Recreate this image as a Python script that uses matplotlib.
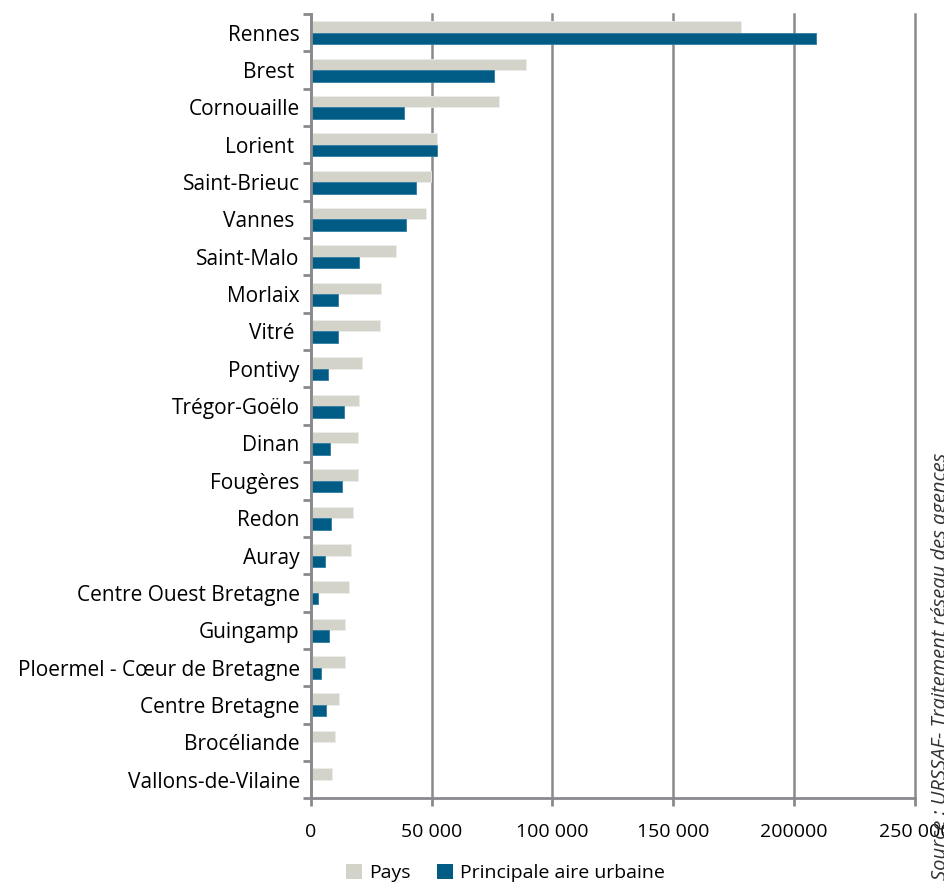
import matplotlib
matplotlib.use("Agg")
import matplotlib.pyplot as plt
from matplotlib.patches import Patch
from matplotlib.ticker import FixedLocator
import numpy as np

plt.rcParams["font.family"] = ["Open Sans", "DejaVu Sans"]

categories = [
    "Rennes", "Brest ", "Cornouaille", "Lorient ", "Saint-Brieuc", "Vannes ",
    "Saint-Malo", "Morlaix", "Vitré ", "Pontivy", "Trégor-Goëlo", "Dinan",
    "Fougères", "Redon", "Auray", "Centre Ouest Bretagne", "Guingamp",
    "Ploermel - Cœur de Bretagne", "Centre Bretagne", "Brocéliande",
    "Vallons-de-Vilaine",
]
pays = [
    178000, 89200, 77900, 52400, 49600, 47800, 35100, 28900, 28500, 21100,
    20100, 19600, 19400, 17500, 16400, 15700, 14200, 14000, 11700, 10000, 8750,
]
aire_urbaine = [
    209300, 76000, 38400, 52200, 43500, 39200, 20000, 11100, 11400, 7100,
    13750, 8050, 12900, 8200, 5800, 3050, 7500, 4300, 6250, 0, 0,
]
x_ticks = [0, 50000, 100000, 150000, 200000, 250000]
x_tick_labels = ["0", "50 000", "100 000", "150 000", "200000", "250 000"]

PAYS_COLOR = "#d3d3ca"
URB_COLOR = "#005b85"
GRID_COLOR = "#8a8a8e"

fig = plt.figure(figsize=(9.45, 8.82), dpi=100)
ax = fig.add_axes([0.329, 0.095, 0.639, 0.889])

n = len(categories)
y = np.arange(n)
h = 0.31
ax.barh(y - h / 2, pays, height=h, color=PAYS_COLOR, edgecolor="#ececea", linewidth=0.6, zorder=3)
ax.barh(y + h / 2, aire_urbaine, height=h, color=URB_COLOR, edgecolor="#2f7ea3", linewidth=0.6, zorder=3)

ax.set_ylim(n - 0.5, -0.5)
ax.set_xlim(0, 250000)

ax.set_yticks(y)
ax.set_yticklabels(categories, fontsize=15)
ax.yaxis.set_minor_locator(FixedLocator(np.arange(-0.5, n, 1.0)))
ax.tick_params(axis="y", which="major", length=0, pad=8)
ax.tick_params(axis="y", which="minor", length=6, width=2, color=GRID_COLOR)

ax.set_xticks(x_ticks)
ax.set_xticklabels(x_tick_labels, fontsize=14)
ax.tick_params(axis="x", length=6, width=2, color=GRID_COLOR, pad=12)

ax.grid(axis="x", color=GRID_COLOR, linewidth=1.8, zorder=0)
for gl in ax.get_xgridlines():
    gl.set_clip_on(False)
ax.set_axisbelow(True)
for side in ["top", "right"]:
    ax.spines[side].set_visible(False)
for side in ["left", "bottom"]:
    ax.spines[side].set_color(GRID_COLOR)
    ax.spines[side].set_linewidth(2)
    ax.spines[side].set_zorder(4)

handles = [Patch(facecolor=PAYS_COLOR, label="Pays"),
           Patch(facecolor=URB_COLOR, label="Principale aire urbaine")]
fig.legend(handles=handles, loc="center", bbox_to_anchor=(0.535, 0.010), ncol=2,
           frameon=False, fontsize=14, handlelength=0.8, handleheight=0.8,
           handletextpad=0.35, columnspacing=1.4)

fig.text(0.985, 0.002, "Source : URSSAF- Traitement réseau des agences",
         rotation=90, ha="left", va="bottom", fontsize=14.5, style="italic", color="#333333")

fig.savefig("out.png", dpi=100)
